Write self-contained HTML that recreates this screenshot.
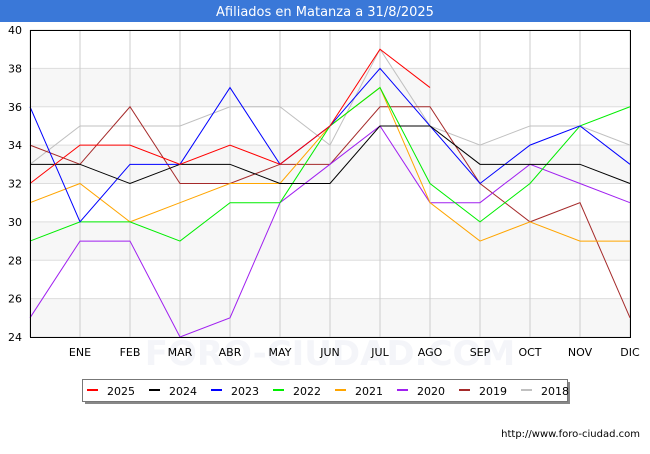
<!DOCTYPE html>
<html><head><meta charset="utf-8"><style>
body{margin:0;width:650px;height:450px;background:#fff;font-family:"DejaVu Sans","Liberation Sans",sans-serif;overflow:hidden}
</style></head><body>
<svg width="650" height="450" xmlns="http://www.w3.org/2000/svg">
<rect x="0" y="0" width="650" height="22" fill="#3a78d8"/>
<text x="325" y="16" text-anchor="middle" fill="#fff" font-size="13">Afiliados en Matanza a 31/8/2025</text>
<g id="bands"></g><g id="grid"></g>
<text x="330" y="365" text-anchor="middle" font-size="34" fill="#f4f5f9" font-weight="bold">FORO-CIUDAD.COM</text>
<g id="series"></g>
<rect x="30.5" y="30.5" width="600" height="307" fill="none" stroke="#000"/>
<g id="axes"></g>
<rect x="85" y="382" width="485" height="22" fill="#888"/>
<rect x="82.5" y="379.5" width="485" height="22" fill="#fff" stroke="#777"/>
<g id="legend"></g>
<text x="640" y="437" text-anchor="end" font-size="10" fill="#000">http://www.foro-ciudad.com</text>
</svg>
<script>
const months=["","ENE","FEB","MAR","ABR","MAY","JUN","JUL","AGO","SEP","OCT","NOV","DIC"];
const yTicks=[24,26,28,30,32,34,36,38,40];
const years=["2025","2024","2023","2022","2021","2020","2019","2018"];
const colors=["#ff0000","#000000","#0000ff","#00ee00","#ffa500","#a020f0","#a52a2a","#c0c0c0"];
const s2025=[32,34,34,33,34,33,35,39,37];
const s2024=[33,33,32,33,33,32,32,35,35,33,33,33,32];
const s2023=[36,30,33,33,37,33,35,38,35,32,34,35,33];
const s2022=[29,30,30,29,31,31,35,37,32,30,32,35,36];
const s2021=[31,32,30,31,32,32,35,37,31,29,30,29,29];
const s2020=[25,29,29,24,25,31,33,35,31,31,33,32,31];
const s2019=[34,33,36,32,32,33,33,36,36,32,30,31,25];
const s2018=[33,35,35,35,36,36,34,39,35,34,35,35,34];
const series=[s2025,s2024,s2023,s2022,s2021,s2020,s2019,s2018];
const NS="http://www.w3.org/2000/svg";
const X=i=>30+i*50, Y=v=>30+(40-v)*307/16;
function el(t,a,p){const e=document.createElementNS(NS,t);for(const k in a)e.setAttribute(k,a[k]);document.getElementById(p).appendChild(e);return e;}
for(let k=0;k<yTicks.length-1;k+=2){
 const b=el('rect',{x:30,y:Y(yTicks[k]+2),width:600,height:Y(yTicks[k])-Y(yTicks[k]+2),fill:'#f7f7f7'},'bands');
 
 
}
yTicks.forEach(v=>{
 const l=el('line',{x1:30,x2:630,y1:Y(v),y2:Y(v),stroke:'#dddddd'},'grid');
 
 
 const t=el('text',{x:22,y:Y(v)+4,'text-anchor':'end','font-size':11},'axes');t.textContent=v;
 
 
});
months.forEach((m,i)=>{
 const l=el('line',{x1:X(i),x2:X(i),y1:30,y2:337,stroke:'#cccccc'},'grid');
 
 
 if(m){const t=el('text',{x:X(i),y:356,'text-anchor':'middle','font-size':11},'axes');t.textContent=m;
 
 }
});
for(let k=series.length-1;k>=0;k--){
 const p=el('polyline',{points:series[k].map((v,i)=>X(i)+','+Y(v)).join(' '),fill:'none',stroke:colors[k],'stroke-width':1},'series');
 
 
}
years.forEach((y,k)=>{
 const x=87+k*62;
 const r=el('rect',{x:x,y:389,width:11,height:2,fill:colors[k]},'legend');
 
 
 const t=el('text',{x:x+20,y:395,'font-size':11},'legend');t.textContent=y;
 
 
});
</script>
</body></html>
